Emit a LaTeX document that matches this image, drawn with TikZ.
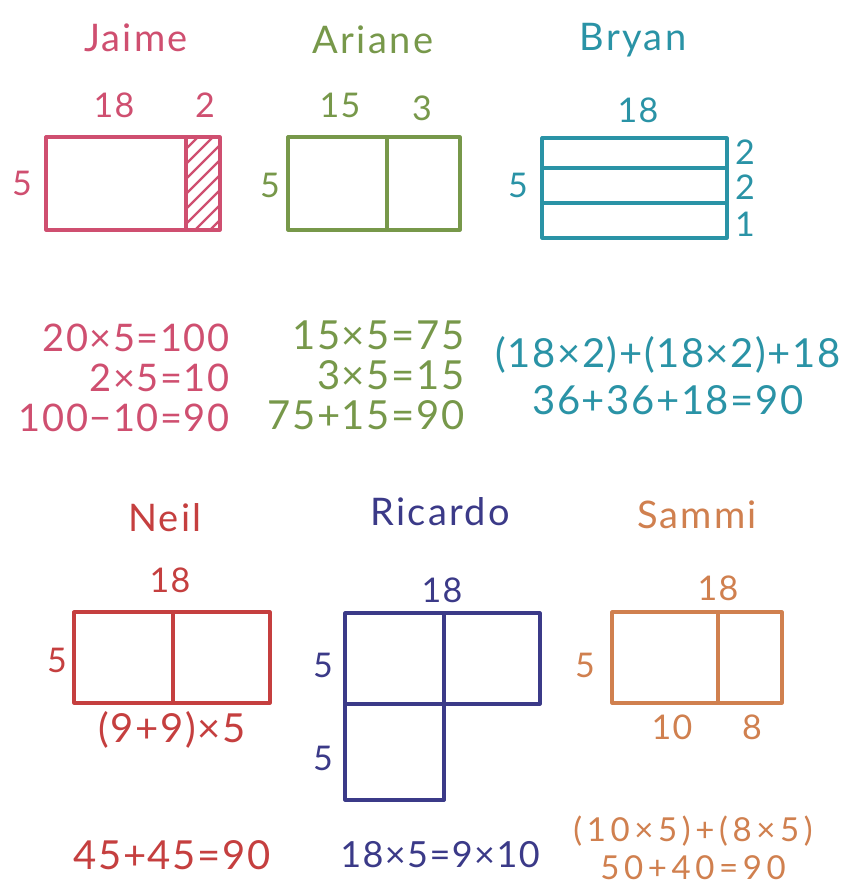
\documentclass[tikz,border=0pt]{standalone}
\usepackage{fontspec}
\setmainfont{Lato}
\newfontfamily\handeq[LetterSpace=4]{Lato}
\newfontfamily\handwide[LetterSpace=14]{Lato}
\newfontfamily\handname[LetterSpace=6]{Lato}
\definecolor{cJ}{HTML}{CF4F70}
\definecolor{cA}{HTML}{77984A}
\definecolor{cB}{HTML}{2A93A6}
\definecolor{cN}{HTML}{C53F3F}
\definecolor{cR}{HTML}{3B3A88}
\definecolor{cS}{HTML}{D0804F}
\begin{document}
\begin{tikzpicture}[x=1pt,y=-1pt,line width=3.2pt,line cap=round,line join=round,
  lab/.style={inner sep=0pt,font=\handeq\fontsize{34}{36}\selectfont},
  who/.style={inner sep=0pt,font=\handname\fontsize{38}{40}\selectfont},
  eq/.style={inner sep=0pt,font=\handeq\fontsize{40}{42}\selectfont},
  eqj/.style={inner sep=0pt,font=\handeq\fontsize{38}{40}\selectfont},
  eqs/.style={inner sep=0pt,font=\handeq\fontsize{36}{38}\selectfont},
  eqw/.style={inner sep=0pt,font=\handwide\fontsize{33}{35}\selectfont}]
\useasboundingbox[fill=white] (0,0) rectangle (844,886);
% ---------- Jaime ----------
\begin{scope}[color=cJ]
\node[who] (jn) at (136,38) {Jaime};
\node[lab] (j18) at (114,105) {18};
\node[lab] (j2) at (205,105) {2};
\node[lab] (j5) at (22,183) {5};
\begin{scope}
\clip (186,137) rectangle (220,230);
\foreach \k in {0,...,9} {\draw[line width=2.4pt] (170,{150+\k*15}) -- (240,{80+\k*15});}
\end{scope}
\draw (46,137) rectangle (220,230);
\draw (186,137) -- (186,230);
\node[eqj,anchor=east] (je1) at (231,338) {20×5=100};
\node[eqj,anchor=east] (je2) at (231,378) {2×5=10};
\node[eqj,anchor=east] (je3) at (231,418) {100−10=90};
\end{scope}
% ---------- Ariane ----------
\begin{scope}[color=cA]
\node[who] (an) at (373,40) {Ariane};
\node[lab] (a15) at (340,105) {15};
\node[lab] (a3) at (422,108) {3};
\node[lab] (a5) at (270,185) {5};
\draw (288,137) rectangle (460,230);
\draw (387,137) -- (387,230);
\node[eq,anchor=east] (ae1) at (466,335) {15×5=75};
\node[eq,anchor=east] (ae2) at (466,375) {3×5=15};
\node[eq,anchor=east] (ae3) at (466,415) {75+15=90};
\end{scope}
% ---------- Bryan ----------
\begin{scope}[color=cB]
\node[who] (bn) at (633,40) {Bryan};
\node[lab] (b18) at (638,110) {18};
\node[lab] (b5) at (518,185) {5};
\node[lab] (br1) at (745,152) {2};
\node[lab] (br2) at (745,187) {2};
\node[lab] (br3) at (745,224) {1};
\draw (542,138) rectangle (727,238);
\draw (542,168) -- (727,168);
\draw (542,203) -- (727,203);
\node[eq] (be1) at (668,355) {(18×2)+(18×2)+18};
\node[eq] (be2) at (668,400) {36+36+18=90};
\end{scope}
% ---------- Neil ----------
\begin{scope}[color=cN]
\node[who] (nn) at (165,518) {Neil};
\node[lab] (n18) at (170,580) {18};
\node[lab] (n5) at (57,660) {5};
\draw (74,612) rectangle (270,703);
\draw (173,612) -- (173,703);
\node[eq] (ne1) at (172,730) {(9+9)×5};
\node[eq] (ne2) at (172,855) {45+45=90};
\end{scope}
% ---------- Ricardo ----------
\begin{scope}[color=cR]
\node[who] (rn) at (440,512) {Ricardo};
\node[lab] (r18) at (442,590) {18};
\node[lab] (r5a) at (323,665) {5};
\node[lab] (r5b) at (323,758) {5};
\draw (345,613) rectangle (540,704);
\draw (444,613) -- (444,800);
\draw (345,704) -- (345,800) -- (444,800);
\node[eqs] (re1) at (440,855) {18×5=9×10};
\end{scope}
% ---------- Sammi ----------
\begin{scope}[color=cS]
\node[who] (sn) at (697,515) {Sammi};
\node[lab] (s18) at (718,588) {18};
\node[lab] (s5) at (585,665) {5};
\node[lab] (s10) at (672,727) {10};
\node[lab] (s8) at (752,727) {8};
\draw (612,612) rectangle (782,703);
\draw (718,612) -- (718,703);
\node[eqw] (se1) at (693,831) {(10×5)+(8×5)};
\node[eqw] (se2) at (693,868) {50+40=90};
\end{scope}
\end{tikzpicture}
\end{document}
